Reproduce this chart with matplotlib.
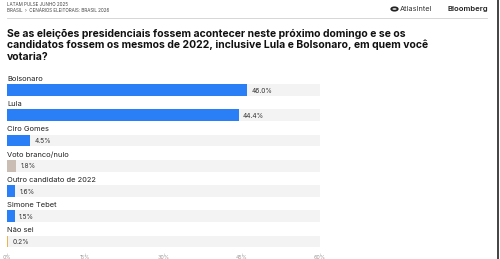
import matplotlib.pyplot as plt
from matplotlib.lines import Line2D
from matplotlib.patches import Circle

plt.rcParams['font.family'] = ['Inter', 'DejaVu Sans']

categories = ['Bolsonaro', 'Lula', 'Ciro Gomes', 'Voto branco/nulo',
              'Outro candidato de 2022', 'Simone Tebet', 'Não sei']
values = [46.0, 44.4, 4.5, 1.8, 1.6, 1.5, 0.2]
colors = ['#2b7ff6', '#2b7ff6', '#2b7ff6', '#c9bdb4', '#2b7ff6', '#2b7ff6', '#eab34f']
ticks = [0, 15, 30, 45, 60]
tick_labels = ['0%', '15%', '30%', '45%', '60%']

W, H = 500, 259
fig = plt.figure(figsize=(5, 2.59), dpi=100)

# header
fig.text(7/W, 1 - 4/H, 'LATAM PULSE JUNHO 2025', fontsize=3.3, color='#444', va='center')
fig.text(7/W, 1 - 11/H, 'BRASIL  ›  CENÁRIOS ELEITORAIS: BRASIL 2026', fontsize=3.3, color='#444', va='center')
fig.add_artist(Line2D([7/W, 487/W], [1 - 18/H, 1 - 18/H], color='#d0d0d0', lw=0.6))
fig.add_artist(Circle((394.5/W, 1 - 9/H), 3.2/W, transform=fig.transFigure,
                      fill=False, ec='#222', lw=1.3))
fig.text(400/W, 1 - 9/H, 'AtlasIntel', fontsize=5.3, color='#333', va='center')
fig.text(488/W, 1 - 9/H, 'Bloomberg', fontsize=5.5, color='#222', va='center',
         ha='right', fontweight='semibold')
fig.add_artist(Line2D([498/W, 498/W], [0, 1], color='#222', lw=1.2))

title = ('Se as eleições presidenciais fossem acontecer neste próximo domingo e se os\n'
         'candidatos fossem os mesmos de 2022, inclusive Lula e Bolsonaro, em quem você\n'
         'votaria?')
fig.text(7/W, 1 - 28.5/H, title, fontsize=7.5, fontweight='bold', color='#111',
         va='top', linespacing=1.17)

# bars
ax = fig.add_axes([7/W, 1 - 253/H, 313/W, 183/H])
pos = list(range(len(categories)))
ax.barh(pos, [60] * len(pos), height=0.47, color='#f3f3f3')
ax.barh(pos, values, height=0.47, color=colors)
for i, (c, v) in enumerate(zip(categories, values)):
    ax.text(0, i - 0.44, c, fontsize=5.4, color='#222', va='center')
    ax.text(v + 0.8, i + 0.02, '%.1f%%' % v, fontsize=4.8, color='#333', va='center')

ax.set_xlim(0, 60)
ax.set_ylim(6.455, -0.792)
ax.set_xticks(ticks)
ax.set_xticklabels(tick_labels, fontsize=3.8, color='#999')
ax.tick_params(axis='x', length=1.2, width=0.5, color='#ccc', pad=0.5)
ax.set_yticks([])
for s in ax.spines.values():
    s.set_visible(False)

fig.savefig('out.png', dpi=100)
